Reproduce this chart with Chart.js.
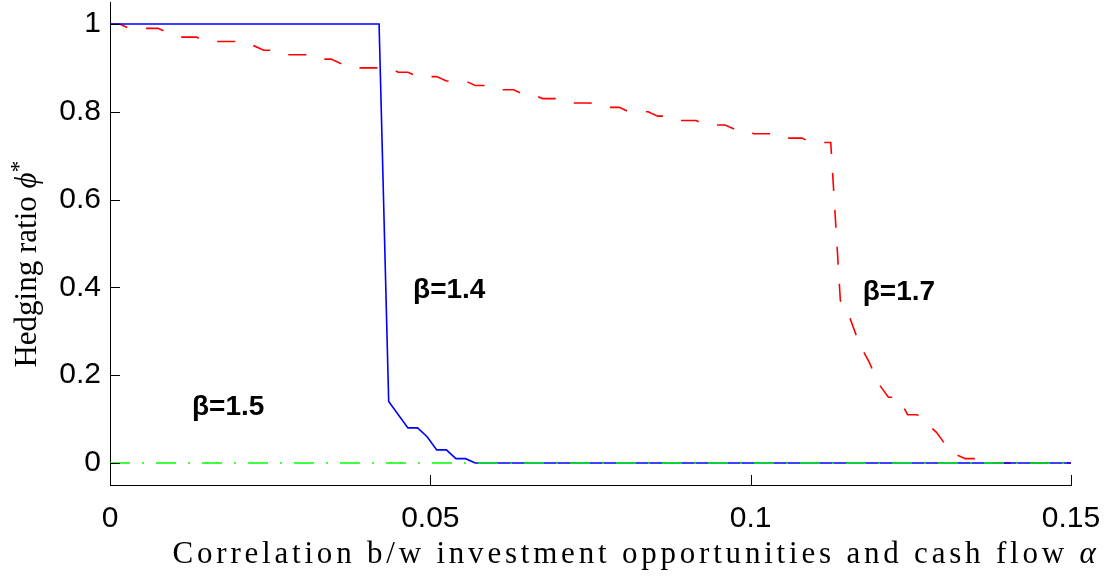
<!DOCTYPE html>
<html>
<head>
<meta charset="utf-8">
<script src="https://cdn.jsdelivr.net/npm/chart.js@4"></script>
<style>
  html, body { margin: 0; padding: 0; background: #fff; }
</style>
</head>
<body>
<canvas id="hedgeChart" width="1112" height="578"></canvas>
<script>
// beta = 1.4, solid blue
const alphaB14 = [0, 0.042, 0.0435, 0.0465, 0.048, 0.0495, 0.051, 0.0525, 0.054, 0.0555, 0.057, 0.15];
const phiB14 = [1, 1, 0.14, 0.08, 0.08, 0.06, 0.03, 0.03, 0.01, 0.01, 0, 0];

// beta = 1.5, green dash-dot (flat at zero)
const alphaB15 = [0, 0.15];
const phiB15 = [0, 0];

// beta = 1.7, red dashed
const alphaB17 = [0, 0.0015, 0.003, 0.0075, 0.009, 0.0105, 0.0135, 0.015, 0.0195, 0.021, 0.0225, 0.024,
  0.0255, 0.027, 0.0315, 0.033, 0.0345, 0.036, 0.0375, 0.039, 0.0435, 0.045, 0.0465, 0.048, 0.051, 0.0525,
  0.0555, 0.057, 0.0585, 0.06, 0.063, 0.0645, 0.066, 0.0675, 0.0705, 0.072, 0.075, 0.0765, 0.0795, 0.081,
  0.084, 0.0855, 0.087, 0.0885, 0.0915, 0.093, 0.096, 0.0975, 0.099, 0.1005, 0.1035, 0.105, 0.108, 0.1095,
  0.1125, 0.114, 0.1155, 0.117, 0.1185, 0.12, 0.1215, 0.123, 0.1245, 0.126, 0.1275, 0.129, 0.1305, 0.132,
  0.1335, 0.135, 0.1365, 0.15];
const phiB17 = [1.00, 1.00, 0.99, 0.99, 0.98, 0.97, 0.97, 0.96, 0.96, 0.95, 0.95, 0.94, 0.94, 0.93, 0.93,
  0.92, 0.92, 0.91, 0.91, 0.90, 0.90, 0.89, 0.89, 0.88, 0.88, 0.87, 0.87, 0.86, 0.86, 0.85, 0.85, 0.84,
  0.84, 0.83, 0.83, 0.82, 0.82, 0.81, 0.81, 0.80, 0.80, 0.79, 0.79, 0.78, 0.78, 0.77, 0.77, 0.76, 0.76,
  0.75, 0.75, 0.74, 0.74, 0.73, 0.73, 0.37, 0.33, 0.27, 0.23, 0.18, 0.15, 0.15, 0.11, 0.11, 0.09, 0.07,
  0.04, 0.02, 0.01, 0.01, 0, 0];

const xTicks = [0, 0.05, 0.1, 0.15];
const yTicks = [0, 0.2, 0.4, 0.6, 0.8, 1];

// curve labels, placed in data units
const curveNotes = [
  { text: 'β=1.4', x: 0.0473, y: 0.376 },
  { text: 'β=1.5', x: 0.0128, y: 0.109 },
  { text: 'β=1.7', x: 0.1175, y: 0.371 }
];

const toPoints = (xs, ys) => xs.map((x, i) => ({ x: x, y: ys[i] }));

// matlab style ticks pointing into the plot
const innerTicks = {
  id: 'innerTicks',
  afterDatasetsDraw(chart) {
    const { ctx, chartArea: a, scales: { x, y } } = chart;
    ctx.save();
    ctx.strokeStyle = '#000';
    ctx.lineWidth = 1;
    ctx.beginPath();
    xTicks.forEach(v => {
      const px = Math.round(x.getPixelForValue(v)) + 0.5;
      ctx.moveTo(px, a.bottom);
      ctx.lineTo(px, a.bottom - 10);
    });
    yTicks.forEach(v => {
      const py = Math.round(y.getPixelForValue(v)) + 0.5;
      ctx.moveTo(a.left, py);
      ctx.lineTo(a.left + 10, py);
    });
    ctx.stroke();
    ctx.restore();
  }
};

const notes = {
  id: 'notes',
  afterDatasetsDraw(chart) {
    const { ctx, scales: { x, y } } = chart;
    ctx.save();
    ctx.fillStyle = '#000';
    ctx.font = 'bold 28px "Liberation Sans", Arial, sans-serif';
    ctx.textAlign = 'left';
    ctx.textBaseline = 'alphabetic';
    curveNotes.forEach(n => ctx.fillText(n.text, x.getPixelForValue(n.x), y.getPixelForValue(n.y)));
    ctx.restore();
  }
};

function drawRuns(ctx, runs, cx, y, width) {
  const serif = '"Liberation Serif", "DejaVu Serif", serif';
  let total = 0, count = 0;
  runs.forEach(r => {
    ctx.font = (r.style || '') + ' ' + r.size + 'px ' + serif;
    total += ctx.measureText(r.text).width;
    count += r.text.length;
  });
  const gap = width ? (width - total) / count : 0;
  let x = cx - (total + gap * count) / 2;
  runs.forEach(r => {
    ctx.font = (r.style || '') + ' ' + r.size + 'px ' + serif;
    for (const ch of r.text) {
      ctx.fillText(ch, x, y + (r.dy || 0));
      x += ctx.measureText(ch).width + gap;
    }
  });
}

const axisTitles = {
  id: 'axisTitles',
  afterDraw(chart) {
    const ctx = chart.ctx;
    ctx.save();
    ctx.fillStyle = '#000';
    ctx.textAlign = 'left';
    ctx.textBaseline = 'alphabetic';
    drawRuns(ctx, [
      { text: 'Correlation b/w investment opportunities and cash flow ', size: 31 },
      { text: 'α', size: 31, style: 'italic' }
    ], 636, 563, 927);
    ctx.translate(36, 264);
    ctx.rotate(-Math.PI / 2);
    drawRuns(ctx, [
      { text: 'Hedging ratio ', size: 31 },
      { text: 'ϕ', size: 31, style: 'italic' },
      { text: '*', size: 24, dy: -10 }
    ], 0, 0, 0);
    ctx.restore();
  }
};

const tickFont = { family: '"Liberation Sans", Arial, sans-serif', size: 30 };

new Chart(document.getElementById('hedgeChart'), {
  type: 'line',
  data: {
    datasets: [
      {
        label: 'β=1.5',
        data: toPoints(alphaB15, phiB15),
        borderColor: '#00ff00',
        borderWidth: 1.6,
        borderDash: [20, 12, 2, 12],
        pointRadius: 0,
        tension: 0,
        order: 0
      },
      {
        label: 'β=1.4',
        data: toPoints(alphaB14, phiB14),
        borderColor: '#0000ff',
        borderWidth: 1.6,
        pointRadius: 0,
        tension: 0,
        order: 1
      },
      {
        label: 'β=1.7',
        data: toPoints(alphaB17, phiB17),
        borderColor: '#ff0000',
        borderWidth: 1.6,
        borderDash: [18, 19],
        pointRadius: 0,
        tension: 0,
        order: 2
      }
    ]
  },
  options: {
    responsive: false,
    animation: false,
    devicePixelRatio: 1,
    layout: { padding: { left: 0, right: 41, top: 2, bottom: 0 } },
    plugins: {
      legend: { display: false },
      tooltip: { enabled: false }
    },
    scales: {
      x: {
        type: 'linear',
        min: 0,
        max: 0.15,
        afterBuildTicks: s => { s.ticks = xTicks.map(v => ({ value: v })); },
        afterFit: s => { s.height = 93; s.paddingLeft = 0; s.paddingRight = 0; },
        grid: { display: false, drawTicks: false },
        border: { display: true, color: '#000', width: 1 },
        ticks: {
          font: tickFont,
          color: '#000',
          padding: 16,
          maxRotation: 0,
          autoSkip: false,
          callback: v => String(v)
        }
      },
      y: {
        type: 'linear',
        min: -0.05,
        max: 1.05,
        afterBuildTicks: s => { s.ticks = yTicks.map(v => ({ value: v })); },
        afterFit: s => { s.width = 110; s.paddingTop = 0; s.paddingBottom = 0; },
        grid: { display: false, drawTicks: false },
        border: { display: true, color: '#000', width: 1 },
        ticks: {
          font: tickFont,
          color: '#000',
          padding: 9,
          autoSkip: false,
          callback: v => String(v)
        }
      }
    }
  },
  plugins: [innerTicks, notes, axisTitles]
});
</script>
</body>
</html>
